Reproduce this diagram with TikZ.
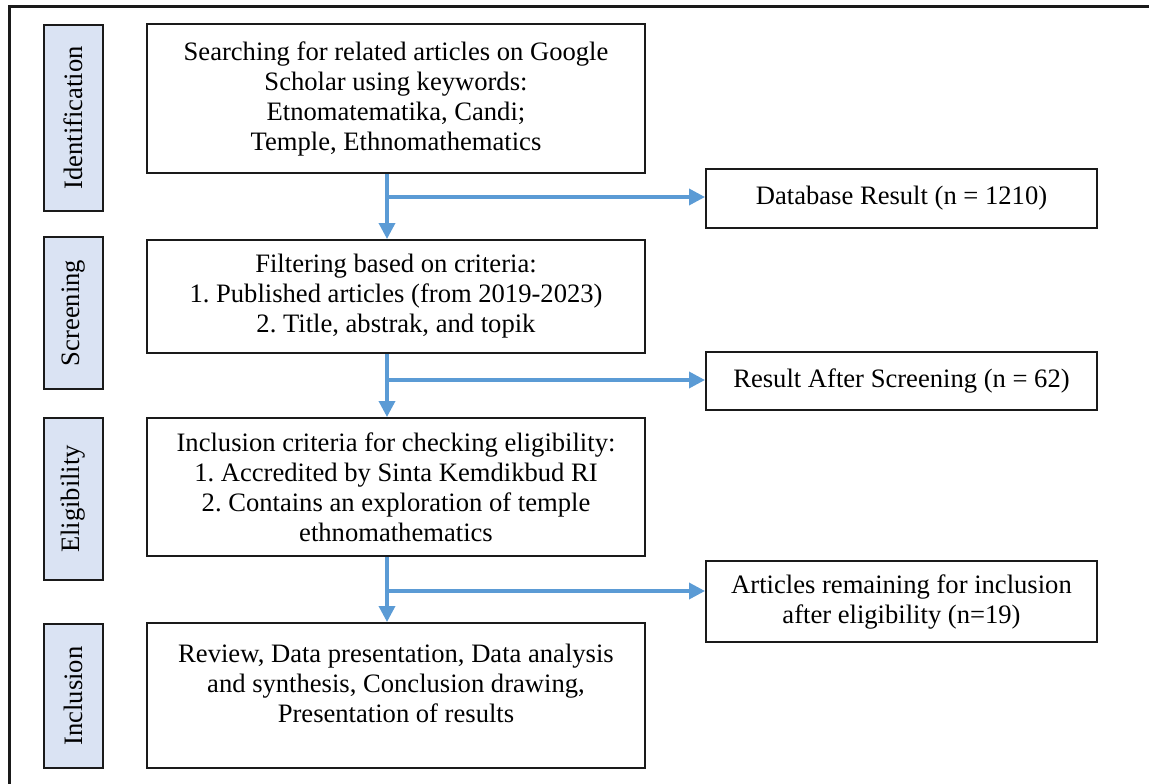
\documentclass[tikz,border=0pt]{standalone}
\usepackage{fontspec}
\usepackage{graphicx}
\setmainfont{Liberation Serif}
\usetikzlibrary{arrows.meta}
\definecolor{flowblue}{HTML}{5B9BD5}
\definecolor{stagefill}{HTML}{DAE3F3}
\definecolor{edgeink}{HTML}{1A1A1A}
\frenchspacing

\begin{document}
\begin{tikzpicture}[x=1pt,y=-1pt,
  every node/.style={font=\fontsize{26.6}{30}\selectfont, inner sep=0pt},
  stagebox/.style={draw=edgeink, line width=2pt, fill=stagefill, minimum width=59pt},
  mainbox/.style={draw=edgeink, line width=2pt, minimum width=498pt, align=center},
  sidebox/.style={draw=edgeink, line width=2pt, minimum width=391pt, align=center},
  flow/.style={draw=flowblue, line width=3.5pt, -{Triangle[length=16pt,width=16pt]}}]

\useasboundingbox (0,0) rectangle (1149,784);

% outer frame (top and left edges)
\draw[edgeink, line width=3pt] (9,784) -- (9,7) -- (1149,7);

% stage labels
\node[stagebox, minimum height=186pt] (sid) at (73.5,118) {\rotatebox{90}{Identification}};
\node[stagebox, minimum height=152pt] (ssc) at (73.5,313) {\rotatebox{90}{Screening}};
\node[stagebox, minimum height=162pt] (sel) at (73.5,499) {\rotatebox{90}{Eligibility}};
\node[stagebox, minimum height=144pt] (sin) at (73.5,696) {\rotatebox{90}{Inclusion}};

% main process boxes
\node[mainbox, minimum height=149pt] (box1) at (396,98.5)
  {Searching for related articles on Google\\Scholar using keywords:\\Etnomatematika, Candi;\\Temple, Ethnomathematics};
\node[mainbox, minimum height=113pt] (box2) at (396,296.5)
  {Filtering based on criteria:\\1. Published articles (from 2019-2023)\\2. Title, abstrak, and topik};
\node[mainbox, minimum height=138pt] (box3) at (396,487)
  {Inclusion criteria for checking eligibility:\\1. Accredited by Sinta Kemdikbud RI\\2. Contains an exploration of temple\\ethnomathematics};
\node[mainbox, minimum height=145pt] (box4) at (396,695.5) {};
\node[align=center] (box4text) at (396,683)
  {Review, Data presentation, Data analysis\\and synthesis, Conclusion drawing,\\Presentation of results};

% result boxes
\node[sidebox, minimum height=59pt] (db) at (901.5,198.5) {Database Result (n = 1210)};
\node[sidebox, minimum height=58pt] (rs) at (901.5,381) {Result After Screening (n = 62)};
\node[sidebox, minimum height=81pt] (ar) at (901.5,601.5)
  {Articles remaining for inclusion\\after eligibility (n=19)};

% branch points on the main flow line
\coordinate (j1) at (387,197);
\coordinate (j2) at (387,380);
\coordinate (j3) at (387,591);

% main flow
\draw[flow] (box1.south -| j1) -- (box2.north -| j1);
\draw[flow] (box2.south -| j2) -- (box3.north -| j2);
\draw[flow] (box3.south -| j3) -- (box4.north -| j3);

% side outputs
\draw[flow] (j1) -- (j1 -| db.west);
\draw[flow] (j2) -- (j2 -| rs.west);
\draw[flow] (j3) -- (j3 -| ar.west);
\end{tikzpicture}
\end{document}
